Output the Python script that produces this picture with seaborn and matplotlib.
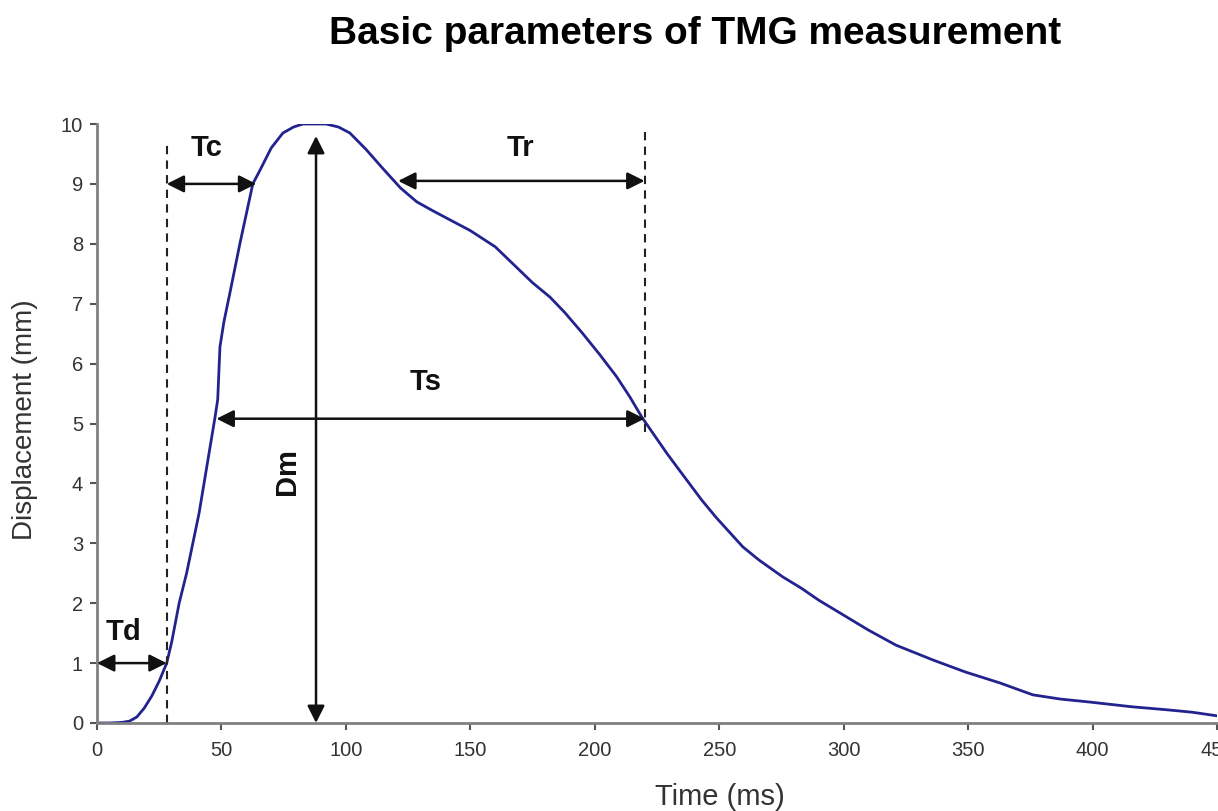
import matplotlib
matplotlib.use("Agg")
import matplotlib.pyplot as plt
import seaborn as sns
import pandas as pd

# ---- data ----
time_ms = [0, 5, 10, 13, 16, 19, 22, 25, 28, 30, 33, 36, 38, 41, 43, 45, 47.4, 48.5, 49.4,
           51, 53.4, 57.4, 60, 62.6, 65.5, 70, 74.7, 79, 82.7, 88, 92, 97, 101.6,
           108, 115, 122, 128.5, 135, 141.8, 150, 160, 165, 175, 182, 188,
           195, 202, 208.8, 214, 219, 224, 229, 234, 243, 249, 259.5, 266, 275.5,
           283, 290, 300, 310, 321, 336, 349, 362.7, 376, 387, 398.8, 416, 430,
           440, 450]
displacement = [0, 0, 0.01, 0.03, 0.1, 0.25, 0.45, 0.7, 1.0, 1.35, 2.0, 2.5, 2.9, 3.5, 4.0,
                4.5, 5.1, 5.4, 6.28, 6.7, 7.18, 8.0, 8.5, 9.0, 9.23, 9.6, 9.85, 9.95, 10.0,
                10.0, 10.0, 9.95, 9.85, 9.58, 9.25, 8.93, 8.70, 8.55, 8.40, 8.22, 7.95,
                7.75, 7.35, 7.11, 6.85, 6.51, 6.15, 5.78, 5.45, 5.1, 4.8, 4.5, 4.22, 3.72,
                3.42, 2.94, 2.72, 2.44, 2.25, 2.05, 1.8, 1.55, 1.3, 1.05, 0.85, 0.67, 0.47,
                0.4, 0.35, 0.27, 0.22, 0.18, 0.12]
x_ticks = [0, 50, 100, 150, 200, 250, 300, 350, 400, 450]
y_ticks = [0, 1, 2, 3, 4, 5, 6, 7, 8, 9, 10]

# annotation parameters (ms, mm)
td_time, tc_end, dm_time, tr_start, tr_end, ts_start = 28, 64, 88, 121, 220, 48
td_level, tc_level, tr_level, ts_level = 1.0, 9.0, 9.05, 5.08

df = pd.DataFrame({"Time (ms)": time_ms, "Displacement (mm)": displacement})

sns.set_style("white")
plt.rcParams["font.family"] = ["Liberation Sans", "DejaVu Sans"]

fig = plt.figure(figsize=(12.18, 8.11), dpi=100)
ax = fig.add_axes([97 / 1218, 1 - 723 / 811, (1217 - 97) / 1218, (723 - 124) / 811])

sns.lineplot(data=df, x="Time (ms)", y="Displacement (mm)", ax=ax,
             color="#23238f", linewidth=2.0)

ax.set_xlim(0, 450)
ax.set_ylim(0, 10)
ax.set_xticks(x_ticks)
ax.set_yticks(y_ticks)
ax.tick_params(axis="both", labelsize=14.5, colors="#555555", labelcolor="#333333",
               length=5, width=1.5, direction="out", left=True, bottom=True)
ax.tick_params(axis="x", pad=8)
ax.tick_params(axis="y", pad=5)
for s in ["top", "right"]:
    ax.spines[s].set_visible(False)
for s in ["left", "bottom"]:
    ax.spines[s].set_color("#808080")
    ax.spines[s].set_linewidth(2)
ax.set_xlabel("Time (ms)", fontsize=21, color="#333333")
ax.set_ylabel("Displacement (mm)", fontsize=20, color="#333333")
ax.xaxis.label.set_va("center")
ax.yaxis.label.set_va("center")
ax.xaxis.set_label_coords(0.556, -0.124)
ax.yaxis.set_label_coords(-0.064, 0.506)

fig.suptitle("Basic parameters of TMG measurement", fontsize=28, fontweight="bold",
             color="black", x=695 / 1218, y=1 - 34 / 811, va="center")

# dashed vertical guide lines
ax.plot([td_time, td_time], [0, 9.72], ls=(0, (4, 3)), color="#222222", lw=1.5)
ax.plot([tr_end, tr_end], [4.85, 9.88], ls=(0, (4, 3)), color="#222222", lw=1.5)

arrow = dict(arrowstyle="<|-|>", color="#111111", lw=1.8, mutation_scale=26,
             shrinkA=0, shrinkB=0)
ax.annotate("", xy=(0, td_level), xytext=(td_time, td_level), arrowprops=arrow)
ax.annotate("", xy=(td_time, tc_level), xytext=(tc_end, tc_level), arrowprops=arrow)
ax.annotate("", xy=(dm_time, 0), xytext=(dm_time, 9.8), arrowprops=arrow)
ax.annotate("", xy=(tr_start, tr_level), xytext=(tr_end, tr_level), arrowprops=arrow)
ax.annotate("", xy=(ts_start, ts_level), xytext=(tr_end, ts_level), arrowprops=arrow)

lab = dict(fontsize=21, fontweight="bold", color="#111111", ha="center", va="center")
ax.text(10.5, 1.52, "Td", **lab)
ax.text(44, 9.6, "Tc", **lab)
ax.text(170, 9.6, "Tr", **lab)
ax.text(132, 5.7, "Ts", **lab)
ax.text(76.5, 4.2, "Dm", rotation=90, **lab)

fig.savefig("out.png", dpi=100)
